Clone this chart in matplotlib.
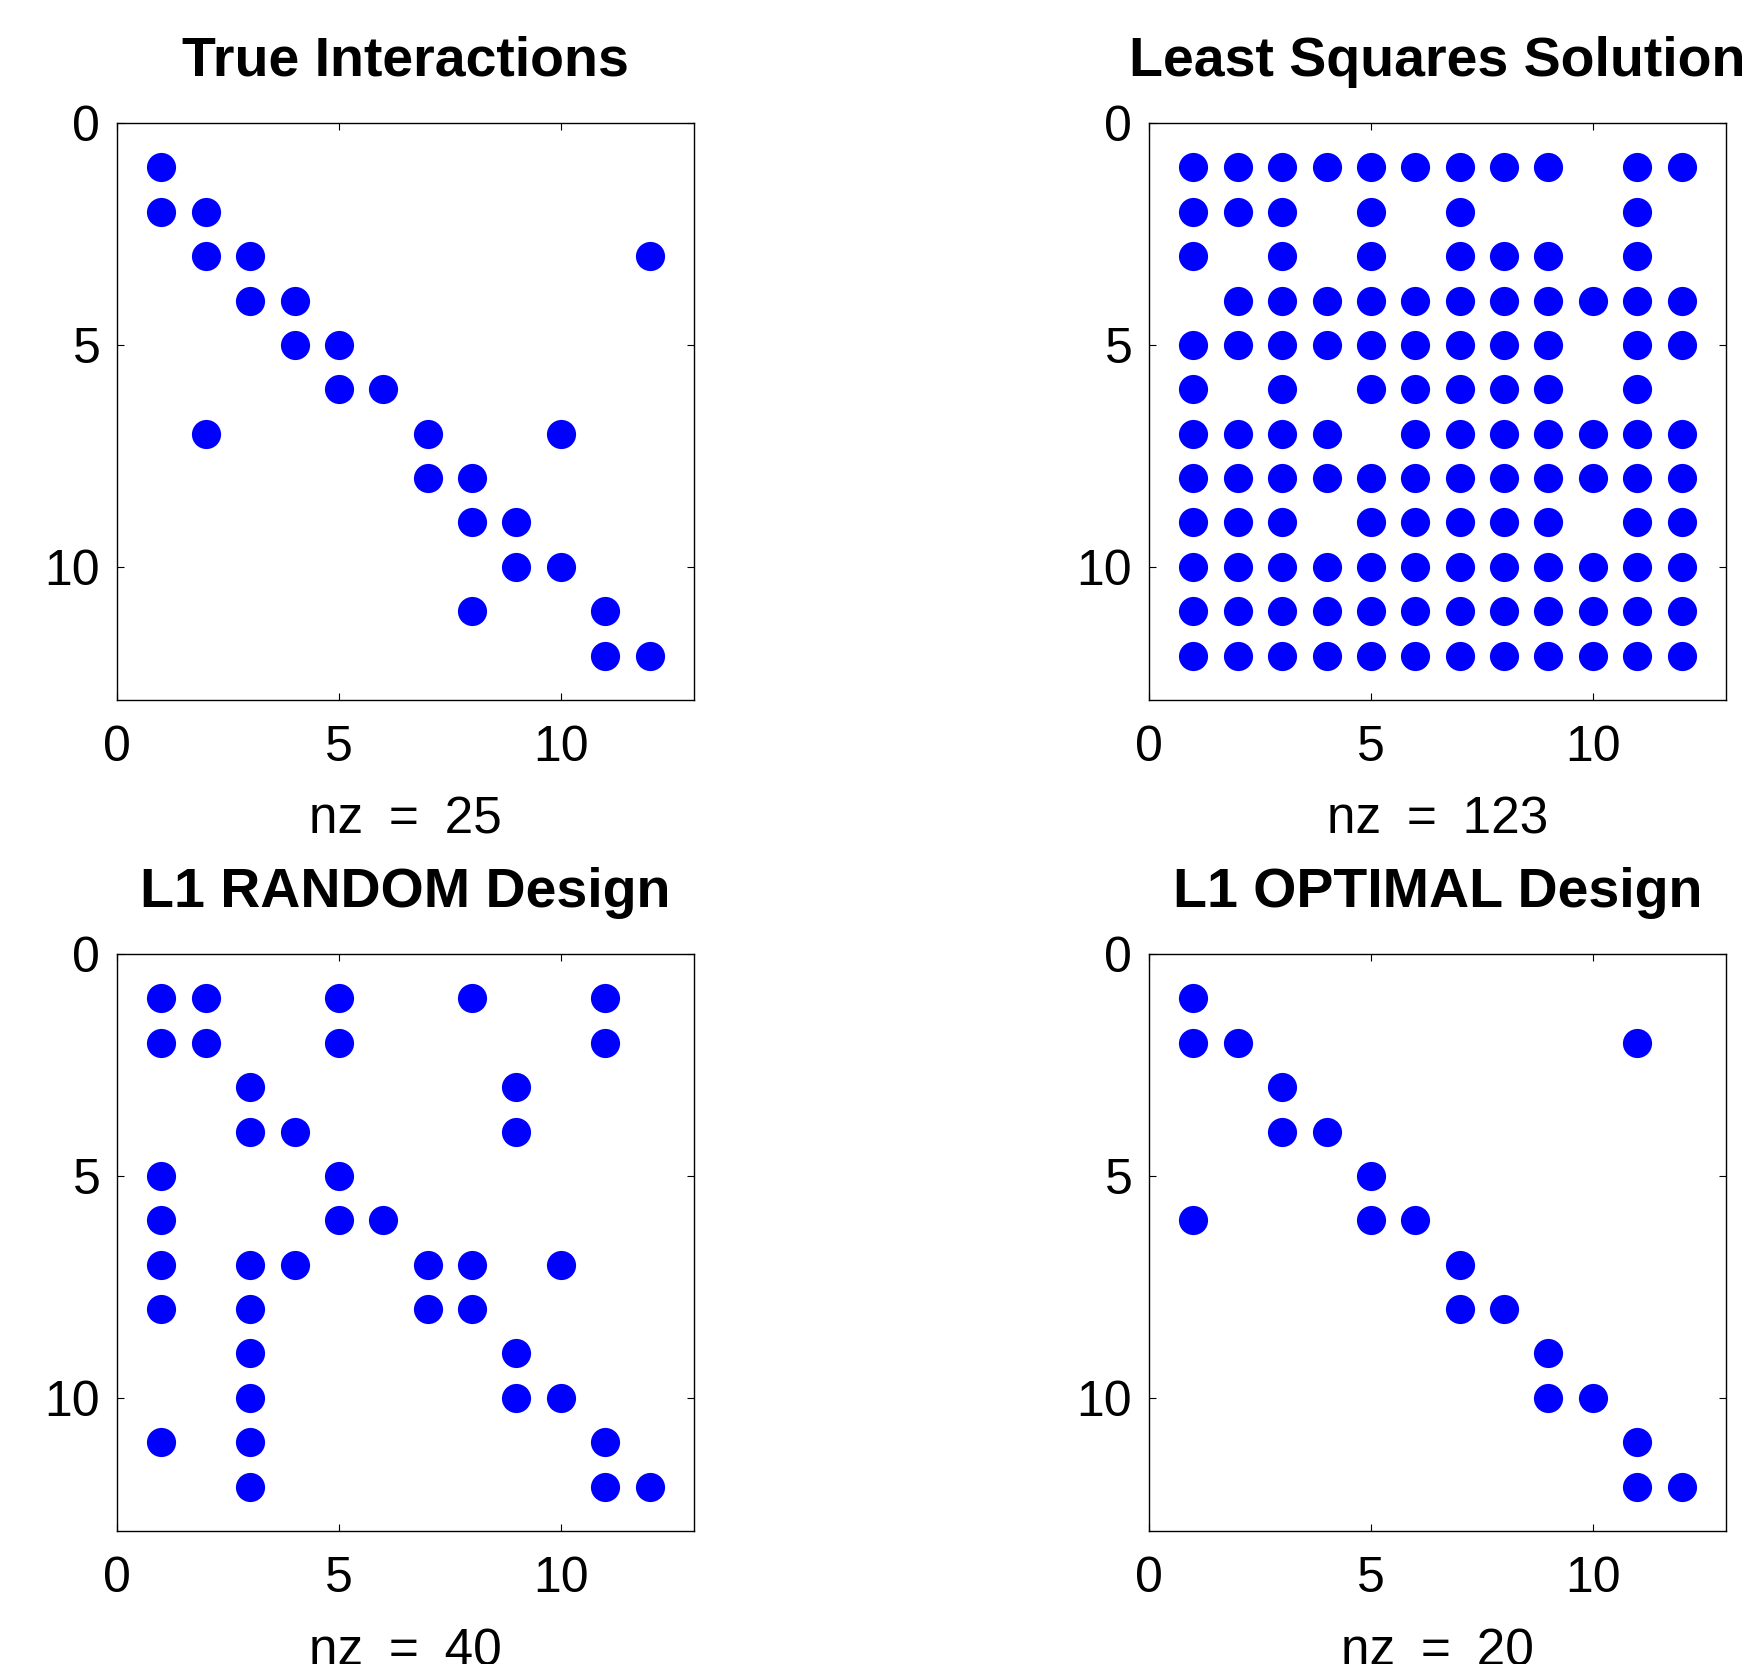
import numpy as np
import matplotlib.pyplot as plt

plt.rcParams['font.family'] = ['Liberation Sans', 'DejaVu Sans']

titles = ["True Interactions", "Least Squares Solution",
          "L1 RANDOM Design", "L1 OPTIMAL Design"]

# nonzero columns per row (rows 1..12)
true_rows = [[1], [1, 2], [2, 3, 12], [3, 4], [4, 5], [5, 6],
             [2, 7, 10], [7, 8], [8, 9], [9, 10], [8, 11], [11, 12]]
ls_rows = [[1, 2, 3, 4, 5, 6, 7, 8, 9, 11, 12],
           [1, 2, 3, 5, 7, 11],
           [1, 3, 5, 7, 8, 9, 11],
           [2, 3, 4, 5, 6, 7, 8, 9, 10, 11, 12],
           [1, 2, 3, 4, 5, 6, 7, 8, 9, 11, 12],
           [1, 3, 5, 6, 7, 8, 9, 11],
           [1, 2, 3, 4, 6, 7, 8, 9, 10, 11, 12],
           [1, 2, 3, 4, 5, 6, 7, 8, 9, 10, 11, 12],
           [1, 2, 3, 5, 6, 7, 8, 9, 11, 12],
           [1, 2, 3, 4, 5, 6, 7, 8, 9, 10, 11, 12],
           [1, 2, 3, 4, 5, 6, 7, 8, 9, 10, 11, 12],
           [1, 2, 3, 4, 5, 6, 7, 8, 9, 10, 11, 12]]
random_rows = [[1, 2, 5, 8, 11], [1, 2, 5, 11], [3, 9], [3, 4, 9], [1, 5],
               [1, 5, 6], [1, 3, 4, 7, 8, 10], [1, 3, 7, 8], [3, 9],
               [3, 9, 10], [1, 3, 11], [3, 11, 12]]
optimal_rows = [[1], [1, 2, 11], [3], [3, 4], [5], [1, 5, 6], [7], [7, 8],
                [9], [9, 10], [11], [11, 12]]

all_rows = [true_rows, ls_rows, random_rows, optimal_rows]

fig = plt.figure(figsize=(17.54, 16.64), dpi=100)
W, H = 1754, 1664
boxes = [(117, 123), (1149, 123), (117, 954), (1149, 954)]
size = 577

for (x0, y0), title, rows in zip(boxes, titles, all_rows):
    ax = fig.add_axes([x0 / W, 1 - (y0 + size) / H, size / W, size / H])
    pts = [(c, r + 1) for r, cols in enumerate(rows) for c in cols]
    xs = [p[0] for p in pts]
    ys = [p[1] for p in pts]
    ax.plot(xs, ys, 'o', color='#0000ff', markersize=21, markeredgewidth=0)
    ax.set_xlim(0, 13)
    ax.set_ylim(13, 0)
    ax.set_xticks([0, 5, 10])
    ax.set_yticks([0, 5, 10])
    ax.tick_params(direction='in', top=True, right=True, length=5,
                   width=0.8, labelsize=36)
    ax.tick_params(axis='x', pad=18)
    ax.tick_params(axis='y', pad=12)
    for s in ax.spines.values():
        s.set_linewidth(1.0)
    ax.set_title(title, fontsize=40, fontweight='bold', pad=34)
    ax.set_xlabel("nz\u2002=\u2002%d" % len(pts), fontsize=37, labelpad=18)

fig.savefig("out.png", dpi=100)
